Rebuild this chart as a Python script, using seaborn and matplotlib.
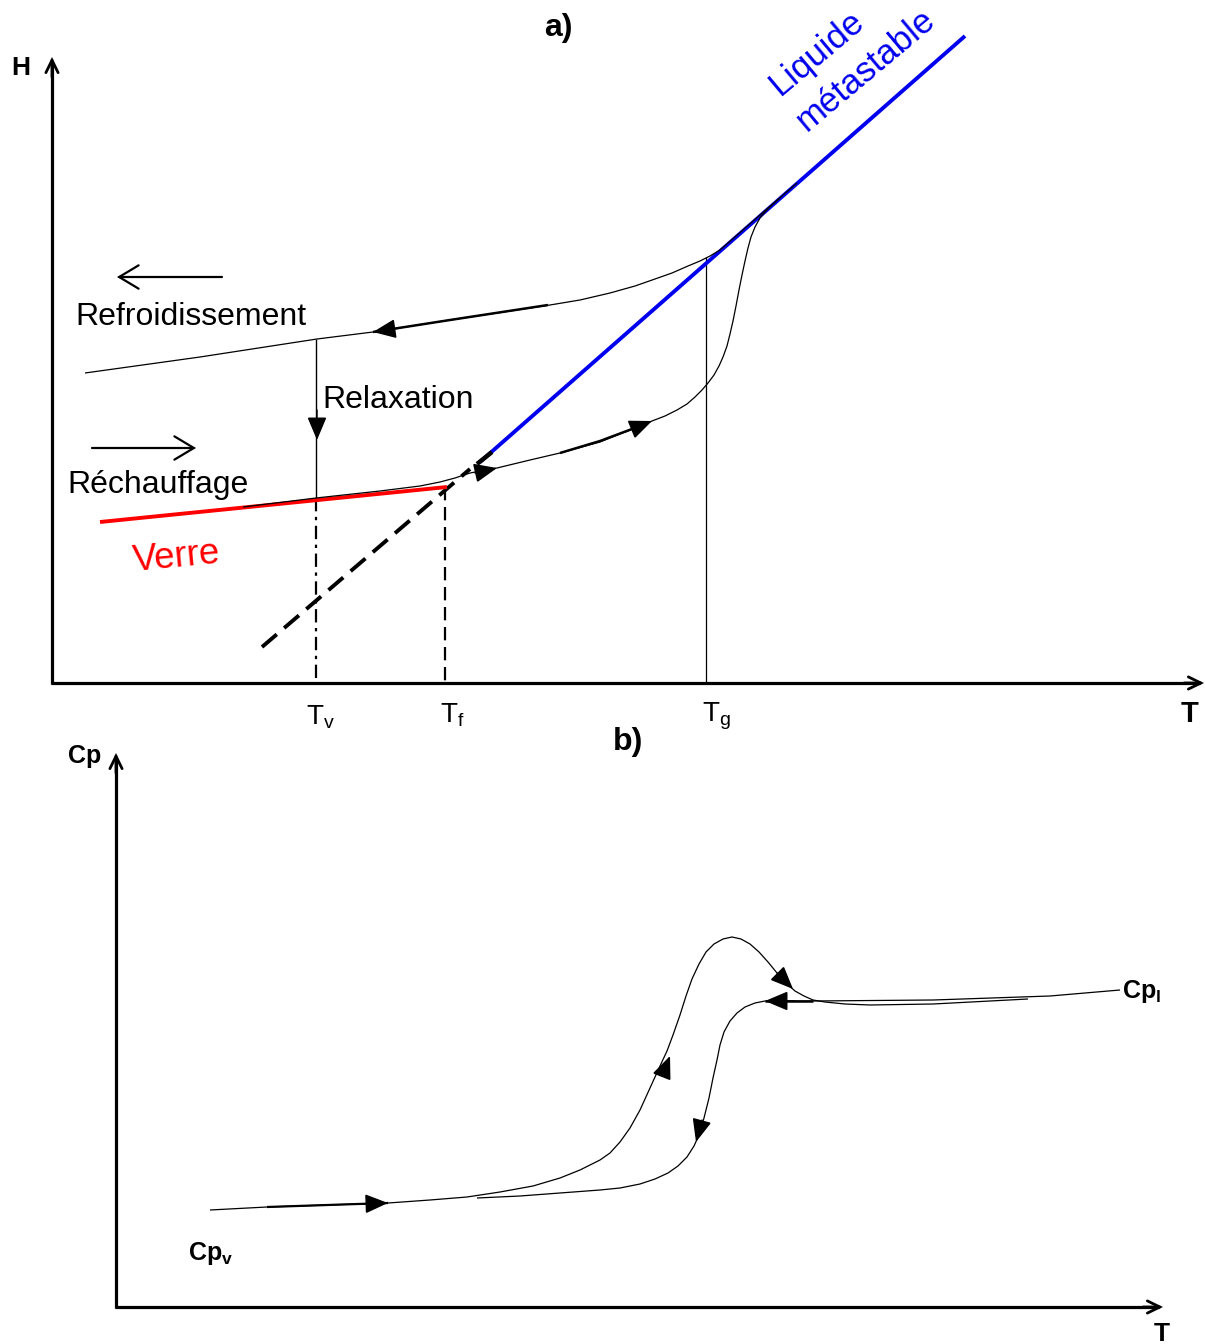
import matplotlib
matplotlib.use("Agg")
import matplotlib.pyplot as plt
import seaborn as sns

sns.set_theme(style="white")
plt.rcParams['font.family'] = ['Liberation Sans', 'DejaVu Sans']
plt.rcParams['text.color'] = 'black'
plt.rcParams['mathtext.fontset'] = 'custom'
plt.rcParams['mathtext.rm'] = 'Liberation Sans'
plt.rcParams['mathtext.bf'] = 'Liberation Sans:bold'

# ---------------- data (schematic, in picture units) ----------------
# panel a : enthalpy H vs temperature T
a_origin = (52, 683)
a_H_top = 57
a_T_right = 1204

cool_a_x = [85, 200, 317, 373, 450, 550, 580, 610, 635, 655, 672, 688, 700, 710, 720, 760, 797]
cool_a_y = [373, 357, 339, 332, 320, 305, 300, 293, 286, 279, 273, 266, 261, 256, 250, 215, 183]
cool_a_thick_x = [373, 450, 548]
cool_a_thick_y = [332, 320, 305]

heat_a_x = [243, 316, 380, 420, 440, 455, 470, 497, 530, 560, 600, 630, 652, 665, 677, 687,
            695, 702, 708, 714, 719, 723, 727, 730, 733, 736, 739, 742, 745, 748, 751, 755,
            760, 765, 771, 780]
heat_a_y = [507, 498, 491, 486, 482, 478, 473, 468, 460, 453, 442, 430, 421, 416, 410, 404,
            397, 390, 383, 375, 366, 357, 346, 334, 321, 306, 290, 275, 261, 248, 237, 227,
            218, 212, 206, 198]
heat_a_thick_x = [560, 600, 640]
heat_a_thick_y = [453, 441, 426]

liquid_x = [480, 965]
liquid_y = [462, 36]
glass_x = [100, 447]
glass_y = [522, 487]
extrap_x = [262, 470]
extrap_y = [647, 469]

T_v, T_f, T_g = 316, 445, 706
relax_top, relax_bottom = 339, 498
T_f_top = 487
T_g_top = 257

# panel b : heat capacity Cp vs temperature T
b_origin = (116, 1307)
b_Cp_top = 753
b_T_right = 1163

heat_b_x = [210, 267, 388, 430, 467, 500, 533, 560, 580, 600, 610, 620, 630, 640, 650, 660,
            667, 673, 680, 686, 692, 699, 706, 714, 723, 732, 741, 750, 759, 768, 777, 786,
            795, 804, 813, 825, 845, 870, 933, 1028]
heat_b_y = [1210, 1207, 1203, 1200, 1197, 1192, 1186, 1178, 1170, 1160, 1153, 1142, 1128,
            1110, 1088, 1066, 1051, 1035, 1015, 996, 979, 964, 952, 944, 939, 937, 939, 944,
            952, 962, 973, 983, 991, 996, 1000, 1002, 1004, 1005, 1004, 999]
heat_b_thick_x = [267, 388]
heat_b_thick_y = [1207, 1203]

cool_b_x = [1120, 1050, 933, 813, 765, 755, 745, 737, 730, 724, 720, 717, 713, 709, 704, 699,
            694, 687, 678, 668, 655, 640, 620, 600, 560, 520, 477]
cool_b_y = [990, 996, 1000, 1001, 1001, 1003, 1007, 1013, 1021, 1032, 1045, 1060, 1078,
            1098, 1118, 1135, 1146, 1157, 1166, 1173, 1179, 1184, 1188, 1190, 1193, 1196, 1198]
cool_b_thick_x = [765, 813]
cool_b_thick_y = [1001, 1001]

# arrows along curves: (tail, tip)
curve_arrows = [
    ((400, 328), (373, 332)),     # cooling, panel a
    ((475, 473), (497, 468)),     # heating, panel a
    ((625, 432), (652, 421)),     # heating, panel a
    ((317, 410), (317, 440)),     # relaxation
    ((360, 1204), (388, 1203)),   # heating, panel b
    ((662, 1076), (670, 1056)),   # heating up, panel b
    ((777, 973), (793, 989)),     # heating down, panel b
    ((795, 1001), (765, 1001)),   # cooling left, panel b
    ((702, 1120), (696, 1142)),   # cooling down, panel b
]
legend_arrows = [((222, 277), (117, 277)), ((92, 448), (196, 448))]

# ---------------- figure ----------------
W, H = 1205, 1344
fig = plt.figure(figsize=(W / 100, H / 100), dpi=100)
ax = fig.add_axes([0, 0, 1, 1])
ax.set_xlim(0, W)
ax.set_ylim(H, 0)
ax.axis('off')


def curve(xs, ys, color='black', lw=1.0, ls='-', z=2):
    sns.lineplot(x=xs, y=ys, sort=False, estimator=None, color=color, linewidth=lw,
                 linestyle=ls, ax=ax, legend=False, zorder=z,
                 solid_joinstyle='round', solid_capstyle='butt')


def arrow(tail, tip, style, lw, ms=16, color='black', z=5):
    ax.annotate('', xy=tip, xytext=tail, zorder=z,
                arrowprops=dict(arrowstyle=style, color=color, lw=lw, mutation_scale=ms,
                                shrinkA=0, shrinkB=0, joinstyle='miter'))


axis_head = '->,head_length=0.45,head_width=0.22'

# panel a axes
ox, oy = a_origin
curve([ox, ox], [oy + 1, a_H_top + 4], lw=2.3)
curve([ox - 1, a_T_right - 4], [oy, oy], lw=2.3)
arrow((ox, a_H_top + 20), (ox, a_H_top), axis_head, 2.0, ms=20)
arrow((a_T_right - 20, oy), (a_T_right, oy), axis_head, 2.0, ms=20)

# vertical markers
curve([T_v, T_v], [relax_top, relax_bottom], lw=1.0)
curve([T_v, T_v], [relax_bottom, oy], lw=1.6, ls=(0, (6, 2.5, 1.5, 2.5)))
curve([T_f, T_f], [T_f_top, oy], lw=1.6, ls=(0, (6, 3)))
curve([T_g, T_g], [T_g_top, oy], lw=0.9)

# extrapolated liquid (dashed)
curve(extrap_x, extrap_y, lw=2.8, ls=(0, (5, 2.5)), z=2)
# glass and liquid lines
curve(glass_x, glass_y, color='#ff0000', lw=2.8, z=3)
curve(liquid_x, liquid_y, color='#0000ee', lw=2.8, z=3)
curve([477, 492], [464, 452], lw=3.2, z=4)

# cooling / heating curves panel a
curve(cool_a_x, cool_a_y, lw=0.9, z=4)
curve(cool_a_thick_x, cool_a_thick_y, lw=1.8, z=4)
curve(heat_a_x, heat_a_y, lw=0.9, z=4)
curve(heat_a_thick_x, heat_a_thick_y, lw=1.8, z=4)

# panel b axes
bx, by = b_origin
curve([bx, bx], [by + 1, b_Cp_top + 4], lw=2.3)
curve([bx - 1, b_T_right - 4], [by, by], lw=2.3)
arrow((bx, b_Cp_top + 20), (bx, b_Cp_top), axis_head, 2.0, ms=20)
arrow((b_T_right - 20, by), (b_T_right, by), axis_head, 2.0, ms=20)

curve(heat_b_x, heat_b_y, lw=0.9)
curve(heat_b_thick_x, heat_b_thick_y, lw=1.6)
curve(cool_b_x, cool_b_y, lw=0.9)
curve(cool_b_thick_x, cool_b_thick_y, lw=1.8)

# arrowheads
for tail, tip in curve_arrows:
    arrow(tail, tip, '-|>,head_length=0.9,head_width=0.38', 1.0, ms=16)
for tail, tip in legend_arrows:
    arrow(tail, tip, '->,head_length=0.7,head_width=0.42', 1.6, ms=20)

# ---------------- text ----------------
fs = 23
ax.text(558, 36, 'a)', fontsize=23, fontweight='bold', ha='center', va='baseline')
ax.text(628, 750, 'b)', fontsize=23, fontweight='bold', ha='center', va='baseline')
ax.text(11, 75, 'H', fontsize=19, fontweight='bold', ha='left', va='baseline')
ax.text(1190, 722, 'T', fontsize=21, fontweight='bold', ha='center', va='baseline')
ax.text(68, 763, 'Cp', fontsize=18, fontweight='bold', ha='left', va='baseline')
ax.text(1162, 1341, 'T', fontsize=19, fontweight='bold', ha='center', va='baseline')
ax.text(1122, 998, r'$\mathbf{Cp}_\mathbf{l}$', fontsize=18, ha='left', va='baseline')
ax.text(188, 1260, r'$\mathbf{Cp}_\mathbf{v}$', fontsize=18, ha='left', va='baseline')

ax.text(75, 325, 'Refroidissement', fontsize=fs, ha='left', va='baseline')
ax.text(322, 408, 'Relaxation', fontsize=fs, ha='left', va='baseline')
ax.text(67, 493, 'Réchauffage', fontsize=fs, ha='left', va='baseline')
ax.text(134, 571, 'Verre', fontsize=26.5, color='#ff0000', ha='left', va='baseline',
        rotation=5.5, rotation_mode='anchor')
ax.text(823, 61, 'Liquide', fontsize=25, color='#0000ee', ha='center', va='baseline',
        rotation=40, rotation_mode='anchor')
ax.text(872, 77, 'métastable', fontsize=25, color='#0000ee', ha='center', va='baseline',
        rotation=40, rotation_mode='anchor')

ax.text(306, 724, r'T$_\mathregular{v}$', fontsize=20, ha='left', va='baseline')
ax.text(440, 722, r'T$_\mathregular{f}$', fontsize=20, ha='left', va='baseline')
ax.text(702, 721, r'T$_\mathregular{g}$', fontsize=20, ha='left', va='baseline')

fig.savefig('out.png', dpi=100, facecolor='white')
